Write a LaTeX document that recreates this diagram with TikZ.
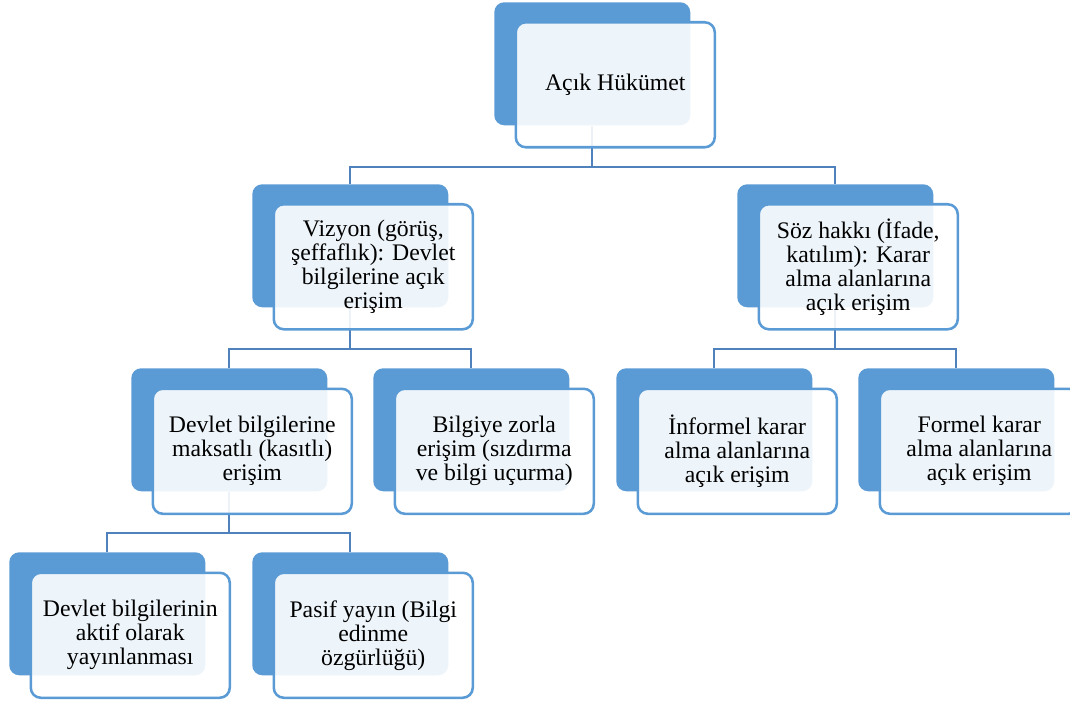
\documentclass[tikz,border=0pt]{standalone}
\usepackage{fontspec}
\setmainfont{Liberation Serif}
\usetikzlibrary{positioning,calc}
\definecolor{backblue}{RGB}{91,155,213}
\definecolor{linkblue}{RGB}{79,129,189}
\definecolor{edgeblue}{RGB}{91,155,213}
\tikzset{
  backbox/.style={rectangle, rounded corners=7.5pt, fill=backblue, inner sep=0pt,
    minimum width=196*0.75pt, minimum height=123*0.75pt, anchor=north west},
  frontbox/.style={rectangle, rounded corners=7.5pt, draw=edgeblue, line width=1.9pt,
    fill=white, fill opacity=0.9, text opacity=1, inner sep=0pt,
    minimum width=199*0.75pt, minimum height=125*0.75pt, anchor=north west,
    align=center, font=\fontsize{17.8pt}{18pt}\selectfont},
  conn/.style={draw=linkblue, line width=1.5pt},
}
\begin{document}
\begin{tikzpicture}[x=0.75pt,y=-0.75pt]
\useasboundingbox (0,0) rectangle (1070,702);
% back boxes
\node[backbox] (b0) at (494,2) {};
\node[backbox] (b1) at (252,184) {};
\node[backbox] (b2) at (737,184) {};
\node[backbox] (b3) at (131,368) {};
\node[backbox] (b4) at (373,368) {};
\node[backbox] (b5) at (616,368) {};
\node[backbox] (b6) at (858,368) {};
\node[backbox] (b7) at (9,552) {};
\node[backbox] (b8) at (252,552) {};
% connectors
\draw[conn] (b0.south) -- ++(0,41) -| (b1.north);
\draw[conn] (b0.south) -- ++(0,41) -| (b2.north);
\draw[conn] (b1.south) -- ++(0,41) -| (b3.north);
\draw[conn] (b1.south) -- ++(0,41) -| (b4.north);
\draw[conn] (b2.south) -- ++(0,41) -| (b5.north);
\draw[conn] (b2.south) -- ++(0,41) -| (b6.north);
\draw[conn] (b3.south) -- ++(0,41) -| (b7.north);
\draw[conn] (b3.south) -- ++(0,41) -| (b8.north);
% front boxes
\node[frontbox] (f0) at ($(b0.north west)+(20.5,19)$) {Açık Hükümet};
\node[frontbox] (f1) at ($(b1.north west)+(20.5,19)$) {Vizyon (görüş,\\şeffaflık): Devlet\\bilgilerine açık\\erişim};
\node[frontbox] (f2) at ($(b2.north west)+(20.5,19)$) {Söz hakkı (İfade,\\katılım): Karar\\alma alanlarına\\açık erişim};
\node[frontbox] (f3) at ($(b3.north west)+(20.5,19.5)$) {Devlet bilgilerine\\maksatlı (kasıtlı)\\erişim};
\node[frontbox] (f4) at ($(b4.north west)+(20.5,19.5)$) {Bilgiye zorla\\erişim (sızdırma\\ve bilgi uçurma)};
\node[frontbox] (f5) at ($(b5.north west)+(20.5,19.5)$) {İnformel karar\\alma alanlarına\\açık erişim};
\node[frontbox] (f6) at ($(b6.north west)+(20.5,19.5)$) {Formel karar\\alma alanlarına\\açık erişim};
\node[frontbox] (f7) at ($(b7.north west)+(20.5,19.5)$) {Devlet bilgilerinin\\aktif olarak\\yayınlanması};
\node[frontbox] (f8) at ($(b8.north west)+(20.5,19.5)$) {Pasif yayın (Bilgi\\edinme\\özgürlüğü)};
\end{tikzpicture}
\end{document}
